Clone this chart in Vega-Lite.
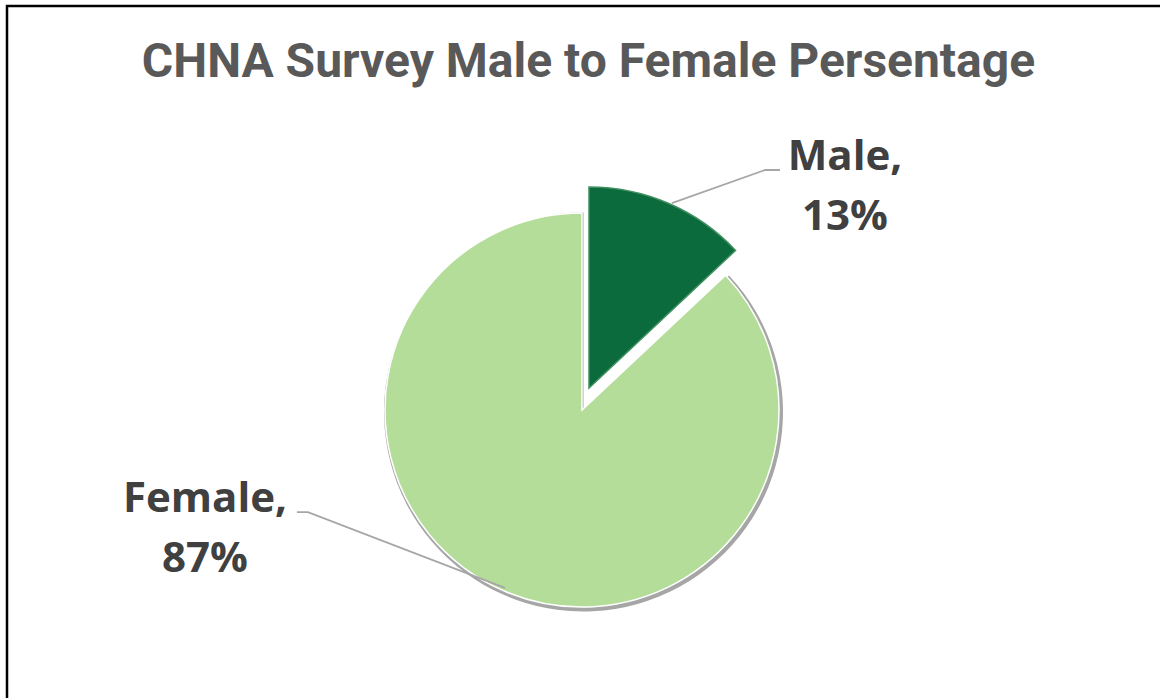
{
  "$schema": "https://vega.github.io/schema/vega-lite/v6.json",
  "width": 1163,
  "height": 702,
  "autosize": {"type": "none"},
  "padding": {"left": 7, "top": 6, "right": -10, "bottom": -10},
  "background": "white",
  "config": {"view": {"stroke": "black", "strokeWidth": 2.5}},
  "title": {
    "text": "CHNA Survey Male to Female Persentage",
    "anchor": "middle",
    "frame": "group",
    "offset": -81,
    "fontSize": 48,
    "font": "Roboto",
    "fontWeight": "bold",
    "color": "#595959"
  },
  "datasets": {
    "survey": [
      {"gender": "Female", "pct": 87},
      {"gender": "Male", "pct": 13}
    ],
    "leaders": [
      {"gender": "Male", "seq": 1, "u": 0.452, "v": 1.04},
      {"gender": "Male", "seq": 2, "u": 0.92, "v": 1.206},
      {"gender": "Male", "seq": 3, "u": 0.995, "v": 1.206},
      {"gender": "Female", "seq": 1, "u": -1.432, "v": -0.513},
      {"gender": "Female", "seq": 2, "u": -1.377, "v": -0.513},
      {"gender": "Female", "seq": 3, "u": -0.387, "v": -0.894}
    ],
    "labels": [
      {"gender": "Male", "pct": 13, "u": 1.322, "v": 1.272},
      {"gender": "Female", "pct": 87, "u": -1.894, "v": -0.449}
    ]
  },
  "layer": [
    {
      "data": {"name": "survey"},
      "transform": [
        {"stack": "pct", "groupby": [], "sort": [{"field": "gender", "order": "descending"}], "as": ["t0", "t1"]},
        {"filter": "datum.gender === 'Female'"}
      ],
      "mark": {"type": "arc", "radius": 199.5, "xOffset": -5, "yOffset": 55, "fill": "#a6a6a6"},
      "encoding": {
        "theta": {"field": "t0", "type": "quantitative", "scale": {"domain": [0, 100]}},
        "theta2": {"field": "t1"}
      }
    },
    {
      "data": {"name": "survey"},
      "transform": [
        {"stack": "pct", "groupby": [], "sort": [{"field": "gender", "order": "descending"}], "as": ["t0", "t1"]},
        {"filter": "datum.gender === 'Female'"}
      ],
      "mark": {"type": "arc", "radius": 197, "xOffset": -6.5, "yOffset": 53, "fill": "#b4dd99", "stroke": "#ffffff", "strokeWidth": 1.5},
      "encoding": {
        "theta": {"field": "t0", "type": "quantitative", "scale": {"domain": [0, 100]}},
        "theta2": {"field": "t1"}
      }
    },
    {
      "data": {"name": "survey"},
      "transform": [
        {"stack": "pct", "groupby": [], "sort": [{"field": "gender", "order": "descending"}], "as": ["t0", "t1"]},
        {"filter": "datum.gender === 'Male'"}
      ],
      "mark": {"type": "arc", "radius": 201, "xOffset": 0.5, "yOffset": 31, "fill": "#0b6b3c", "stroke": "#3f8f5f", "strokeWidth": 1.5},
      "encoding": {
        "theta": {"field": "t0", "type": "quantitative", "scale": {"domain": [0, 100]}},
        "theta2": {"field": "t1"}
      }
    },
    {
      "data": {"name": "leaders"},
      "mark": {"type": "line", "color": "#a6a6a6", "strokeWidth": 1.8},
      "encoding": {
        "x": {"field": "u", "type": "quantitative", "scale": {"domain": [-2.889, 2.955], "nice": false, "zero": false}, "axis": null},
        "y": {"field": "v", "type": "quantitative", "scale": {"domain": [-1.4975, 2.0302], "nice": false, "zero": false}, "axis": null},
        "detail": {"field": "gender"},
        "order": {"field": "seq"}
      }
    },
    {
      "data": {"name": "labels"},
      "transform": [{"calculate": "datum.gender + ',\\n' + datum.pct + '%'", "as": "label"}],
      "mark": {"type": "text", "font": "Open Sans", "fontWeight": "bold", "fontSize": 42, "color": "#404040", "lineBreak": "\n", "lineHeight": 60, "align": "center", "baseline": "middle"},
      "encoding": {
        "x": {"field": "u", "type": "quantitative", "scale": {"domain": [-2.889, 2.955], "nice": false, "zero": false}, "axis": null},
        "y": {"field": "v", "type": "quantitative", "scale": {"domain": [-1.4975, 2.0302], "nice": false, "zero": false}, "axis": null},
        "text": {"field": "label"}
      }
    }
  ]
}
